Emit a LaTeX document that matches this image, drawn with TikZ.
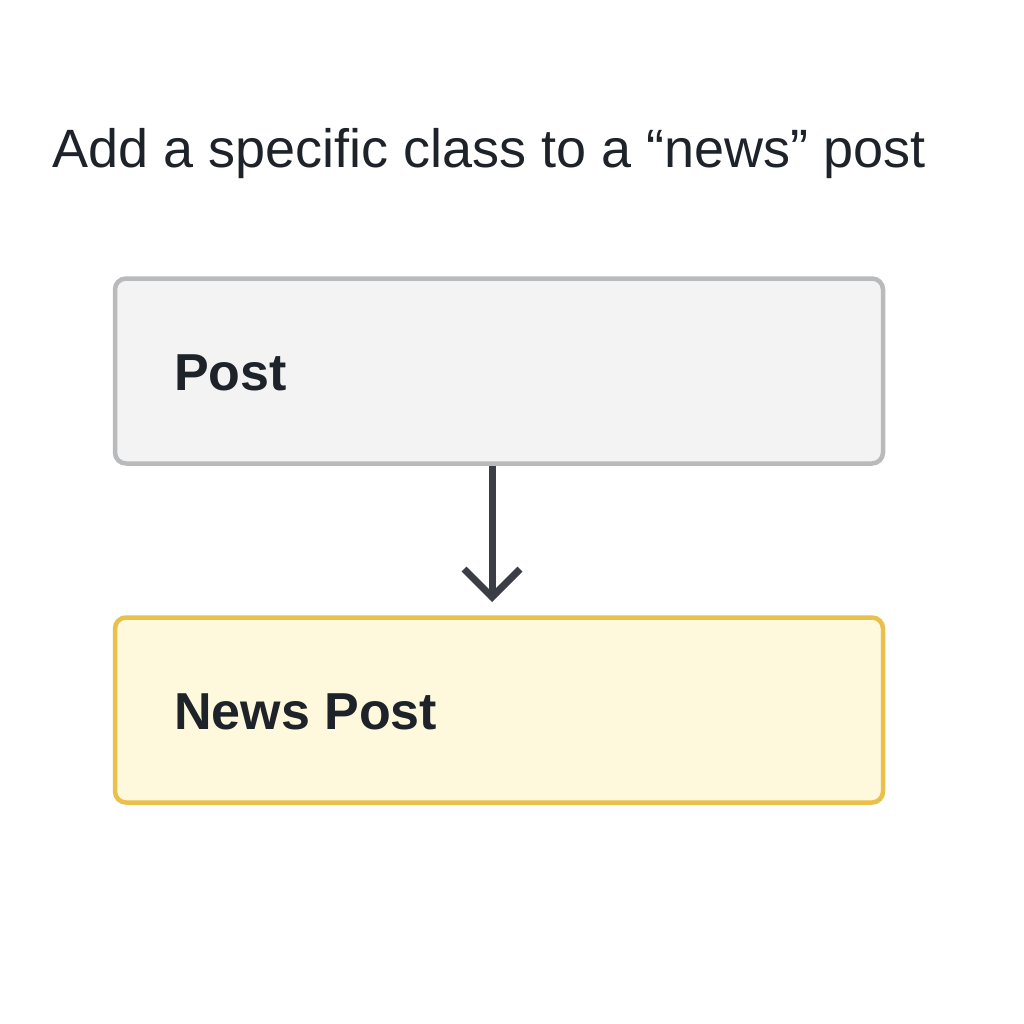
\documentclass[tikz,border=0pt]{standalone}
\usepackage{fontspec}
\setmainfont{Liberation Sans}
\usetikzlibrary{arrows.meta}
\definecolor{txt}{HTML}{1E232A}
\definecolor{grayborder}{HTML}{B9BABC}
\definecolor{grayfill}{HTML}{F3F3F4}
\definecolor{yelborder}{HTML}{E8C04A}
\definecolor{yelfill}{HTML}{FEF9DC}
\definecolor{arrowc}{HTML}{3B3F45}
\tikzset{
  box/.style={draw, line width=4.5pt, rounded corners=11pt, minimum width=768pt, minimum height=185pt, inner sep=0pt},
  plainbox/.style={box, draw=grayborder, fill=grayfill},
  newsbox/.style={box, draw=yelborder, fill=yelfill},
  lbl/.style={font=\fontsize{52}{60}\selectfont\bfseries, text=txt, anchor=base west, inner sep=0pt},
  conn/.style={draw=arrowc, line width=7pt, -{Straight Barb[length=28pt, width=56pt, line width=7pt]}}
}
\begin{document}
\begin{tikzpicture}[x=1pt, y=-1pt]
\useasboundingbox (0,0) rectangle (1024,1024);
\node[anchor=base west, inner sep=0pt, font=\fontsize{54}{64}\selectfont, text=txt] (title) at (52,168) {Add a specific class to a “news” post};
\node[plainbox] (post) at (499,371) {};
\node[lbl] (postl) at (174,390) {Post};
\node[newsbox] (news) at (499,710) {};
\node[lbl] (newsl) at (174,729) {News Post};
\coordinate (tip) at (492,602);
\draw[conn] (post.south -| tip) -- (tip);
\end{tikzpicture}
\end{document}
